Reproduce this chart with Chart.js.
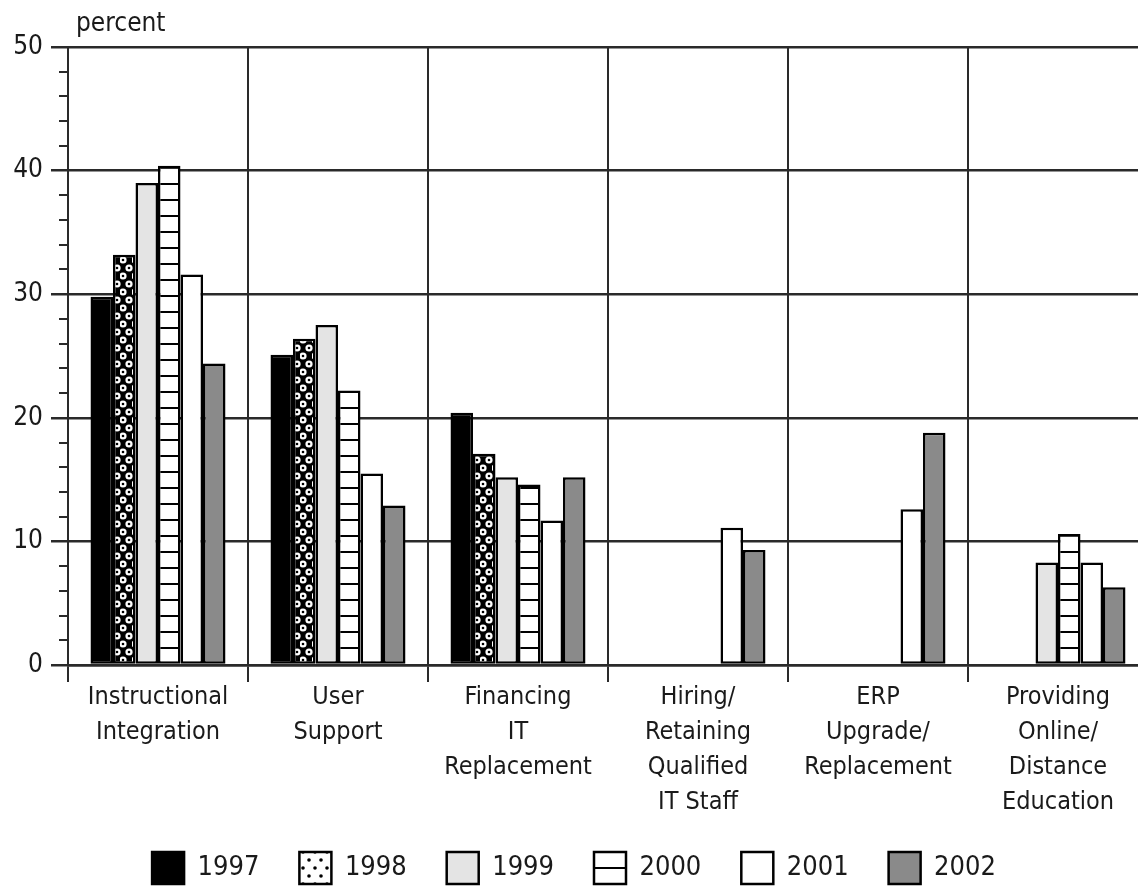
<!DOCTYPE html>
<html>
<head>
<meta charset="utf-8">
<script src="https://cdn.jsdelivr.net/npm/chart.js@4.4.1/dist/chart.umd.min.js"></script>
<style>
  html, body { margin: 0; padding: 0; background: #ffffff; overflow: hidden; }
  #c { display: block; }
</style>
</head>
<body>
<canvas id="c" width="1148" height="888"></canvas>
<script>
// Issue categories (multi-line labels) and survey years
const categories = [
  ['Instructional', 'Integration'],
  ['User', 'Support'],
  ['Financing', 'IT', 'Replacement'],
  ['Hiring/', 'Retaining', 'Qualified', 'IT Staff'],
  ['ERP', 'Upgrade/', 'Replacement'],
  ['Providing', 'Online/', 'Distance', 'Education']
];
const years = ['1997', '1998', '1999', '2000', '2001', '2002'];

// Percent of respondents naming each issue, by year (null = not asked that year)
const v1997 = [29.8, 25.1, 20.4, null, null, null];
const v1998 = [33.2, 26.4, 17.1, null, null, null];
const v1999 = [39.0, 27.5, 15.2, null, null, 8.3];
const v2000 = [40.4, 22.2, 14.6, null, null, 10.6];
const v2001 = [31.6, 15.5, 11.7, 11.1, 12.6, 8.3];
const v2002 = [24.4, 12.9, 15.2, 9.3, 18.8, 6.3];

const yMin = 0, yMax = 50, yMajorStep = 10, yMinorStep = 2;
const axisTitle = 'percent';

const FONT = "'Liberation Sans Narrow', 'DejaVu Sans Condensed', 'Roboto Condensed', sans-serif";
const INK = '#1a1a1a';
const LINE = '#2a2a2a';

// Fill patterns
function makeDots(dark) {
  const c = document.createElement('canvas');
  c.width = 12; c.height = 16;
  const g = c.getContext('2d');
  g.fillStyle = dark ? '#000' : '#fff';
  g.fillRect(0, 0, 12, 16);
  const pts = [[3, 4], [9, 12], [-3, 12], [15, 12]];
  pts.forEach(([x, y]) => {
    if (dark) {
      g.fillStyle = '#fff';
      g.beginPath(); g.arc(x, y, 3.6, 0, Math.PI * 2); g.fill();
    }
    g.fillStyle = '#000';
    g.beginPath(); g.arc(x, y, dark ? 1.3 : 1.8, 0, Math.PI * 2); g.fill();
  });
  return g.createPattern(c, 'repeat');
}
function makeStripes(period, lineY) {
  const c = document.createElement('canvas');
  c.width = 8; c.height = period;
  const g = c.getContext('2d');
  g.fillStyle = '#fff';
  g.fillRect(0, 0, 8, period);
  g.fillStyle = '#000';
  g.fillRect(0, lineY, 8, 2);
  return g.createPattern(c, 'repeat');
}
const dotsBar = makeDots(true);
const dotsKey = makeDots(false);
const stripesBar = makeStripes(16, 7);
const stripesKey = makeStripes(32, 3);

const fills = ['#000000', dotsBar, '#e4e4e4', stripesBar, '#ffffff', '#8a8a8a'];
const series = [v1997, v1998, v1999, v2000, v2001, v2002];

const datasets = years.map((yr, i) => ({
  label: yr,
  data: series[i],
  backgroundColor: fills[i],
  borderColor: '#000',
  borderWidth: 2.5,
  borderSkipped: false,
  categoryPercentage: 0.75,
  barPercentage: 1.0
}));

// Short minor ticks on the value axis between the labelled ones
const minorTicks = {
  id: 'minorTicks',
  afterDraw(chart) {
    const ys = chart.scales.y;
    const ctx = chart.ctx;
    const x0 = chart.chartArea.left;
    ctx.save();
    ctx.strokeStyle = LINE;
    ctx.lineWidth = 2;
    for (let v = yMin; v <= yMax; v += yMinorStep) {
      if (v % yMajorStep === 0) continue;
      const py = Math.round(ys.getPixelForValue(v));
      ctx.beginPath();
      ctx.moveTo(x0 - 9, py);
      ctx.lineTo(x0, py);
      ctx.stroke();
    }
    ctx.restore();
  }
};

// Unit caption above the top of the value axis
const unitCaption = {
  id: 'unitCaption',
  afterDraw(chart) {
    const ctx = chart.ctx;
    ctx.save();
    ctx.fillStyle = INK;
    ctx.font = `26px ${FONT}`;
    ctx.textAlign = 'left';
    ctx.textBaseline = 'alphabetic';
    ctx.fillText(axisTitle, chart.chartArea.left + 8, chart.chartArea.top - 16);
    ctx.restore();
  }
};

new Chart(document.getElementById('c'), {
  type: 'bar',
  data: { labels: categories, datasets },
  plugins: [minorTicks, unitCaption],
  options: {
    responsive: false,
    animation: false,
    devicePixelRatio: 1,
    layout: { padding: { top: 47, left: 0, right: 0, bottom: -6 } },
    plugins: {
      tooltip: { enabled: false },
      legend: {
        position: 'bottom',
        labels: {
          color: INK,
          font: { family: FONT, size: 27 },
          boxWidth: 32,
          boxHeight: 32,
          padding: 40,
          generateLabels(chart) {
            const items = Chart.defaults.plugins.legend.labels.generateLabels(chart);
            items[1].fillStyle = dotsKey;
            items[3].fillStyle = stripesKey;
            return items;
          }
        }
      }
    },
    scales: {
      x: {
        grid: { offset: true, color: LINE, lineWidth: 2, tickLength: 17, drawTicks: true },
        border: { color: LINE, width: 2.5 },
        ticks: {
          color: INK,
          font: { family: FONT, size: 25, lineHeight: '35px' },
          padding: -2,
          maxRotation: 0,
          autoSkip: false
        },
        afterFit(s) { s.height = 147; }
      },
      y: {
        min: yMin,
        max: yMax,
        ticks: {
          stepSize: yMajorStep,
          color: INK,
          font: { family: FONT, size: 26 },
          padding: 8
        },
        grid: { color: LINE, lineWidth: 2.5, tickLength: 17 },
        border: { color: LINE, width: 2 },
        afterFit(s) { s.width = 68; }
      }
    }
  }
});
</script>
</body>
</html>
